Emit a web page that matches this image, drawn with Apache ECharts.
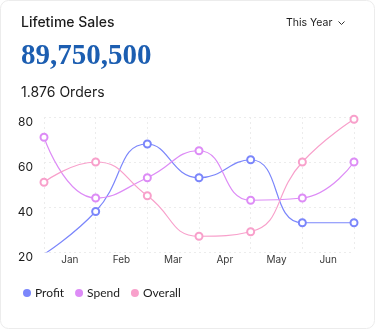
<!DOCTYPE html>
<html>
<head>
<meta charset="utf-8">
<script src="https://cdn.jsdelivr.net/npm/echarts@6/dist/echarts.min.js"></script>
<style>
html,body{margin:0;padding:0;background:#fff;}
#chart{width:376px;height:330px;}
</style>
</head>
<body>
<div id="chart"></div>
<script>
const months = ['Jan', 'Feb', 'Mar', 'Apr', 'May', 'Jun'];
const yTicks = [20, 40, 60, 80];
const profit = [19, 38, 68, 53, 61, 33, 33];
const spend = [71, 44, 53, 65, 43, 44, 60];
const overall = [51, 60, 45, 27, 29, 60, 79];
const seriesNames = ['Profit', 'Spend', 'Overall'];
const seriesColors = ['#7b86fb', '#dd8cf6', '#f8a0cb'];

const chart = echarts.init(document.getElementById('chart'), null, {renderer: 'canvas'});

const toPoints = arr => arr.map((v, i) => [i, v]);
const dataSets = [profit, spend, overall];

const titleFont = 'Inter, "Noto Sans", sans-serif';

const option = {
  animation: false,
  backgroundColor: '#ffffff',
  title: [
    {text: 'Lifetime Sales', left: 21, top: 13, padding: 0,
     textStyle: {fontFamily: titleFont, fontSize: 14, fontWeight: 500, color: '#1c1c1c', lineHeight: 20}},
    {text: '89,750,500', left: 21, top: 42, padding: 0,
     textStyle: {fontFamily: '"Liberation Serif", serif', fontSize: 29, fontWeight: 'bold', color: '#1c5eb1', lineHeight: 30}},
    {text: '1.876 Orders', left: 21, top: 83, padding: 0,
     textStyle: {fontFamily: titleFont, fontSize: 14, fontWeight: 400, color: '#1c1c1c', lineHeight: 20}},
    {text: 'This Year', left: 286, top: 15, padding: 0,
     textStyle: {fontFamily: titleFont, fontSize: 10.5, fontWeight: 400, color: '#1c1c1c', lineHeight: 16}}
  ],
  graphic: [
    {type: 'rect', silent: true, z: -10,
     shape: {x: 0.5, y: 0.5, width: 374, height: 328, r: 8},
     style: {fill: '#ffffff', stroke: '#ececec', lineWidth: 1}},
    {type: 'polyline', silent: true,
     shape: {points: [[338.5, 21.5], [341.5, 24.5], [344.5, 21.5]]},
     style: {stroke: '#333', lineWidth: 1, fill: null}}
  ],
  legend: {
    left: 23, top: 287, itemGap: 11, itemWidth: 8, itemHeight: 8, icon: 'circle',
    padding: 0,
    textStyle: {fontFamily: 'Lato, "Noto Sans", sans-serif', fontSize: 12, color: '#1c1c1c', padding: [0, 0, 0, -1]},
    data: seriesNames
  },
  grid: {left: 44, right: 22, top: 117, bottom: 78, containLabel: false},
  xAxis: [
    {type: 'category', data: months, boundaryGap: true,
     axisLine: {show: false}, axisTick: {show: false},
     axisLabel: {margin: 3, fontFamily: titleFont, fontSize: 10, color: '#3a3a3a'},
     splitLine: {show: true, lineStyle: {color: '#ececec', type: [2, 3], width: 1}}},
    {type: 'value', min: 0, max: 6, show: false}
  ],
  yAxis: {
    type: 'value', min: yTicks[0], max: yTicks[yTicks.length - 1], interval: 20,
    axisLine: {show: false}, axisTick: {show: false},
    axisLabel: {margin: 11, fontFamily: titleFont, fontSize: 12, color: '#1c1c1c',
                verticalAlign: 'top', lineHeight: 10},
    splitLine: {show: true, lineStyle: {color: '#ececec', type: [2, 3], width: 1}}
  },
  series: seriesNames.map((name, k) => ({
    name: name, type: 'line', xAxisIndex: 1, smooth: true,
    symbol: 'emptyCircle', symbolSize: 7, showSymbol: true,
    lineStyle: {color: seriesColors[k], width: 1.2},
    itemStyle: {color: seriesColors[k], borderWidth: 1.2},
    data: toPoints(dataSets[k])
  }))
};
chart.setOption(option);
</script>
</body>
</html>
